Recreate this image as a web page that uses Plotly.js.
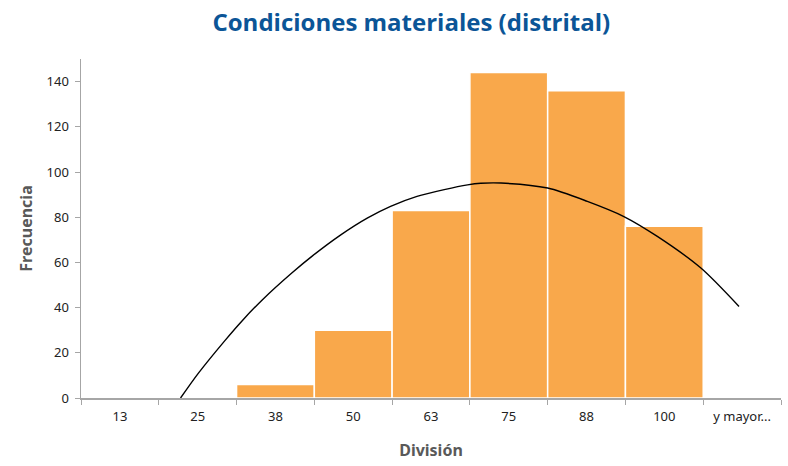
<!DOCTYPE html>
<html>
<head>
<meta charset="utf-8">
<script src="https://cdn.plot.ly/plotly-3.0.1.min.js"></script>
<style>html,body{margin:0;padding:0;background:#fff;}#chart{width:788px;height:466px;}</style>
</head>
<body>
<div id="chart"></div>
<script>
// Histogram bins (categories) and frequencies
const categories = ["13", "25", "38", "50", "63", "75", "88", "100", "y mayor..."];
const frequencies = [0, 0, 6, 30, 83, 144, 136, 76, 0];

// Trend curve (position in category units, value)
const curvePos = [0.78, 1.01, 1.35, 1.57, 1.83, 2.21, 2.48, 2.84, 3.18, 3.48, 3.82, 4.17, 4.47, 4.64, 4.9, 5.5, 6.01, 6.48, 6.91, 7.47, 7.96];
const curveVal = [0, 11, 25.4, 34.1, 43.4, 55.3, 63, 72.2, 79.6, 84.8, 89.2, 92.2, 94.3, 95, 95.1, 92.9, 87, 80.3, 71.5, 57.5, 40.5];

const axisColor = "#a6a6a6";
const tickFont = {family: "Noto Sans, Open Sans, sans-serif", size: 13, color: "#222"};

const data = [
  {
    type: "bar",
    x: categories,
    y: frequencies,
    marker: {color: "#F9A84B", line: {color: "#ffffff", width: 1.5}},
    hoverinfo: "x+y"
  },
  {
    type: "scatter",
    mode: "lines",
    x: curvePos,
    y: curveVal,
    xaxis: "x2",
    line: {color: "#000000", width: 1.4, shape: "spline", smoothing: 0.8},
    hoverinfo: "skip"
  }
];

const layout = {
  width: 788,
  height: 466,
  margin: {l: 81, r: 7, t: 59, b: 68},
  paper_bgcolor: "#ffffff",
  plot_bgcolor: "#ffffff",
  showlegend: false,
  bargap: 0,
  title: {
    text: "<b>Condiciones materiales (distrital)</b>",
    font: {family: "Open Sans, Noto Sans, sans-serif", size: 24, color: "#0B5597"},
    x: 0.522, xanchor: "center", xref: "container",
    y: 0.952, yanchor: "middle", yref: "container"
  },
  xaxis: {
    type: "category",
    range: [-0.5, 8.5],
    tickson: "boundaries",
    ticks: "outside",
    ticklen: 5,
    tickcolor: axisColor,
    showline: true,
    linecolor: axisColor,
    linewidth: 1.5,
    showgrid: false,
    zeroline: false,
    tickfont: tickFont,
    ticklabelstandoff: 6,
    title: {
      text: "<b>División</b>",
      font: {family: "Noto Sans, Open Sans, sans-serif", size: 16, color: "#595959"},
      standoff: 20
    }
  },
  xaxis2: {
    overlaying: "x",
    range: [-0.5, 8.5],
    visible: false,
    showgrid: false,
    zeroline: false
  },
  yaxis: {
    range: [0, 150],
    tickvals: [0, 20, 40, 60, 80, 100, 120, 140],
    ticks: "outside",
    ticklen: 5,
    tickcolor: axisColor,
    showline: true,
    linecolor: axisColor,
    linewidth: 1.5,
    showgrid: false,
    zeroline: false,
    tickfont: tickFont,
    ticklabelstandoff: 3,
    title: {
      text: "<b>Frecuencia</b>",
      font: {family: "Noto Sans, Open Sans, sans-serif", size: 16, color: "#595959"},
      standoff: 10
    }
  }
};

Plotly.newPlot("chart", data, layout, {displayModeBar: false, staticPlot: true});
</script>
</body>
</html>
